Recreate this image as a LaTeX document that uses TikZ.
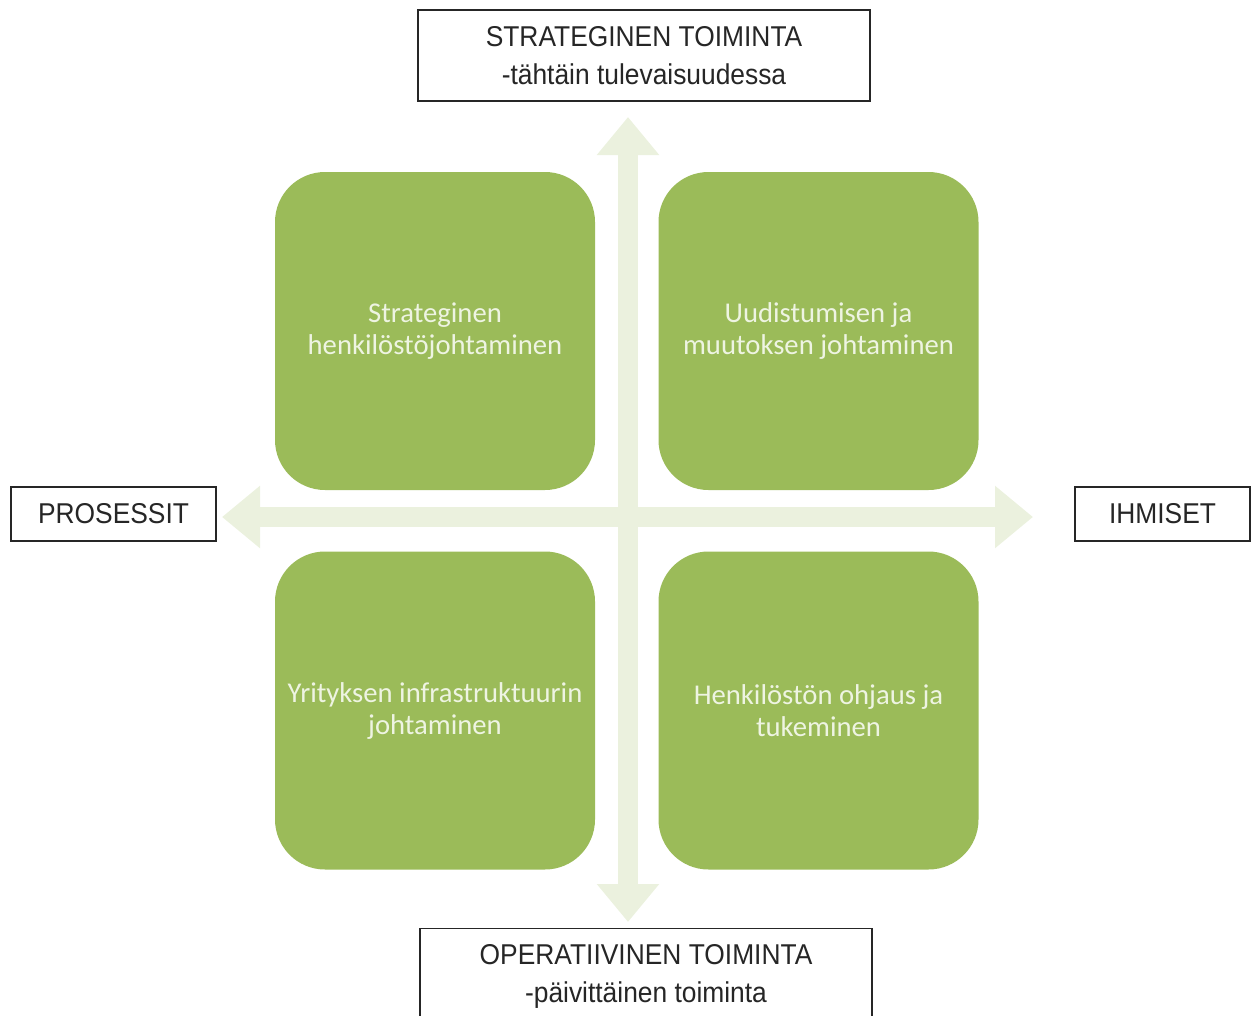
\documentclass[tikz,border=0pt]{standalone}
\usepackage{fontspec}
\setmainfont{Liberation Sans}[FakeStretch=0.92]
\newfontfamily\quadfont{Carlito}
\usetikzlibrary{arrows.meta}
\usetikzlibrary{positioning}

\definecolor{quadgreen}{HTML}{9BBB59}
\definecolor{axisgreen}{HTML}{EBF1DE}
\definecolor{quadtext}{HTML}{EEF4E2}

\tikzset{
  labelbox/.style={draw=black!85, line width=1pt, fill=white, align=center,
    font=\fontsize{21.5}{28.5}\selectfont, text=black!85, inner sep=0pt},
  quad/.style={fill=quadgreen, rounded corners=37.5pt, minimum width=240pt,
    minimum height=238.5pt, align=center, text=quadtext,
    font=\quadfont\fontsize{21.5}{24}\selectfont, inner sep=0pt},
  axis/.style={draw=axisgreen, line width=15pt,
    {Triangle[length=28.5pt,width=45pt]}-{Triangle[length=28.5pt,width=45pt]}},
}

\begin{document}
\begin{tikzpicture}[x=0.75pt,y=-0.75pt]
  \useasboundingbox (0,0) rectangle (1258,1015);

  %draw axis arrows
  \coordinate (top) at (628,117);
  \coordinate (bottom) at (628,922);
  \coordinate (left) at (222,517);
  \coordinate (right) at (1033,517);
  \draw[axis] (bottom) -- (top);
  \draw[axis] (left) -- (right);

  %draw the four quadrants
  \node[quad] (sh) at (435,331) {Strateginen\\henkilöstöjohtaminen};
  \node[quad] (um) at (818.5,331) {Uudistumisen ja\\muutoksen johtaminen};
  \node[quad] (yi) at (435,710.5) {Yrityksen infrastruktuurin\\johtaminen};
  \node[quad] (ho) at (818.5,710.5) {Henkilöstön ohjaus ja\\tukeminen};

  %draw axis labels
  \node[labelbox, minimum width=339pt, minimum height=68.25pt] (st) at (644,55.5)
    {STRATEGINEN TOIMINTA\\-tähtäin tulevaisuudessa};
  \node[labelbox, minimum width=339pt, minimum height=71pt] (ot) at (646,976)
    {OPERATIIVINEN TOIMINTA\\-päivittäinen toiminta};
  \node[labelbox, minimum width=153.75pt, minimum height=40.5pt] (pr) at (113.5,514)
    {PROSESSIT};
  \node[labelbox, minimum width=131.25pt, minimum height=40.5pt] (ih) at (1162.5,514)
    {IHMISET};
\end{tikzpicture}
\end{document}
